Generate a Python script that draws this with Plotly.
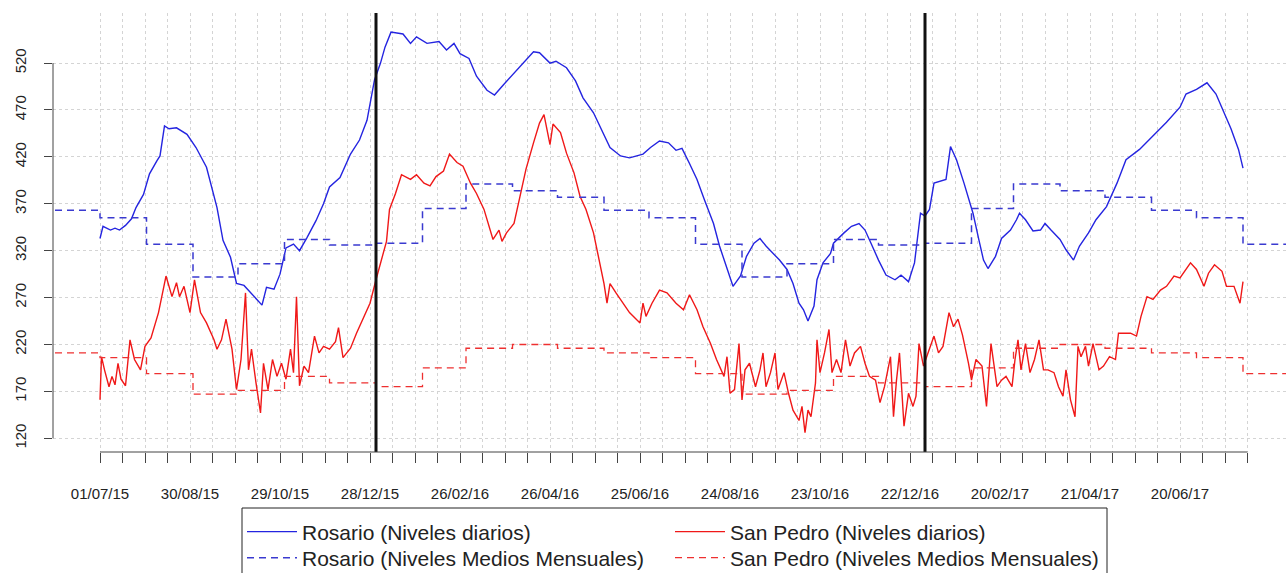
import pandas as pd
import plotly.graph_objects as go

START = "2015-07-01"

# Rosario daily levels (day offset from START, level)
rosario_days = [0, 2, 7, 10, 13, 17, 21, 24, 29, 33, 38, 40, 43, 46, 51, 58, 64, 71, 78, 82,
                87, 91, 96, 100, 104, 108, 111, 116, 120, 124, 129, 133, 138, 144, 149, 153, 160, 167, 173, 178,
                183, 187, 190, 194, 202, 207, 211, 218, 226, 231, 236, 240, 246, 251, 258, 263, 269, 276, 282, 289,
                293, 300, 304, 311, 317, 322, 329, 334, 340, 347, 353, 362, 367, 373, 379, 384, 388, 393, 398, 403,
                409, 413, 418, 422, 427, 431, 436, 440, 444, 449, 453, 458, 462, 466, 469, 472, 476, 478, 482, 487,
                489, 496, 501, 506, 510, 514, 519, 524, 530, 534, 539, 543, 547, 550, 553, 556, 564, 567, 571, 576,
                578, 582, 586, 589, 592, 597, 601, 607, 611, 613, 617, 622, 627, 630, 634, 640, 644, 649, 653, 659,
                664, 671, 678, 684, 693, 702, 711, 720, 724, 731, 738, 744, 749, 754, 759, 762]
rosario_vals = [333, 346, 342, 344, 342, 347, 354, 366, 380, 402, 416, 421, 453, 450, 451, 444, 430, 409, 366, 331,
                313, 285, 283, 276, 270, 262, 281, 279, 295, 323, 327, 320, 334, 352, 370, 388, 398, 423, 438, 459,
                502, 520, 537, 553, 551, 541, 548, 541, 543, 534, 541, 530, 525, 506, 491, 486, 497, 509, 520, 532,
                531, 520, 522, 515, 501, 483, 467, 450, 430, 421, 419, 423, 430, 437, 435, 427, 429, 413, 396, 374,
                349, 325, 300, 282, 293, 314, 328, 333, 325, 317, 310, 300, 285, 264, 257, 245, 261, 289, 307, 317,
                328, 339, 346, 349, 342, 328, 310, 294, 289, 294, 287, 307, 360, 357, 364, 392, 396, 431, 417, 392,
                381, 360, 331, 310, 301, 314, 333, 342, 353, 360, 353, 341, 342, 349, 342, 332, 321, 310, 325, 339,
                353, 367, 392, 417, 428, 442, 457, 473, 487, 492, 499, 487, 469, 450, 428, 408]

# San Pedro daily levels (day offset from START, level)
sanpedro_days = [0, 1, 3, 6, 8, 10, 12, 14, 17, 20, 23, 27, 30, 34, 39, 44, 48, 51, 53, 56,
                 60, 63, 67, 71, 76, 78, 81, 84, 88, 91, 94, 97, 99, 101, 104, 107, 109, 112, 115, 118,
                 121, 124, 127, 129, 131, 133, 136, 139, 143, 146, 149, 153, 157, 159, 162, 167, 171, 176, 180, 184,
                 188, 191, 193, 197, 201, 207, 211, 216, 220, 224, 229, 233, 238, 242, 247, 251, 256, 259, 262, 266,
                 268, 271, 276, 280, 284, 289, 293, 296, 298, 300, 302, 307, 311, 316, 320, 324, 329, 333, 336, 338,
                 340, 344, 349, 353, 358, 360, 362, 364, 368, 373, 378, 384, 389, 393, 398, 402, 407, 411, 416, 418,
                 420, 423, 426, 428, 430, 433, 437, 440, 442, 444, 447, 450, 452, 456, 459, 462, 466, 468, 470, 472,
                 474, 477, 478, 480, 483, 486, 488, 491, 494, 497, 500, 503, 507, 510, 513, 517, 520, 523, 527, 529,
                 531, 533, 536, 539, 542, 544, 546, 549, 552, 556, 559, 562, 566, 569, 572, 575, 579, 581, 584, 588,
                 591, 594, 598, 601, 604, 608, 610, 612, 614, 617, 620, 623, 626, 629, 632, 636, 639, 642, 644, 647,
                 650, 652, 654, 657, 659, 662, 666, 669, 673, 677, 679, 682, 687, 691, 694, 698, 702, 707, 711, 716,
                 720, 727, 731, 736, 739, 743, 748, 751, 756, 760, 762]
sanpedro_vals = [161, 207, 193, 175, 186, 177, 200, 183, 176, 225, 204, 193, 218, 227, 254, 293, 271, 286, 271, 282,
                 254, 289, 254, 243, 225, 215, 225, 247, 215, 172, 204, 275, 193, 215, 179, 147, 200, 172, 204, 186,
                 200, 183, 215, 190, 271, 176, 197, 190, 229, 211, 218, 215, 223, 238, 206, 216, 232, 250, 264, 289,
                 311, 330, 364, 381, 401, 396, 401, 392, 389, 399, 405, 423, 414, 410, 392, 381, 364, 349, 332, 342,
                 330, 339, 349, 378, 407, 435, 456, 465, 449, 433, 455, 446, 424, 403, 378, 364, 339, 310, 285, 264,
                 285, 275, 264, 254, 246, 243, 264, 250, 264, 278, 275, 264, 257, 273, 257, 239, 221, 204, 186, 207,
                 168, 172, 221, 161, 193, 200, 175, 193, 211, 175, 190, 211, 172, 190, 168, 150, 139, 154, 126, 150,
                 143, 179, 225, 190, 211, 236, 190, 204, 190, 225, 197, 211, 218, 200, 186, 182, 158, 175, 207, 143,
                 182, 211, 133, 168, 154, 165, 221, 197, 211, 229, 211, 218, 254, 239, 247, 230, 200, 182, 204, 197,
                 154, 221, 175, 182, 186, 175, 204, 225, 193, 221, 190, 204, 225, 193, 193, 190, 175, 165, 193, 161,
                 143, 218, 207, 218, 197, 221, 193, 197, 207, 204, 232, 232, 232, 229, 250, 271, 268, 278, 282, 293,
                 291, 307, 300, 282, 296, 305, 298, 282, 282, 264, 287]

# Monthly mean levels (one value per month start, Jun 2015 .. Sep 2017)
month_starts = pd.date_range("2015-06-01", "2017-09-01", freq="MS")
rosario_monthly = [363, 355, 327, 292, 306, 332, 326,
                   328, 365, 391, 384, 377, 363, 355, 327, 292, 306, 332, 326,
                   328, 365, 391, 384, 377, 363, 355, 327, 292]
sanpedro_monthly = [211, 206, 189, 167, 171, 186, 179,
                    175, 195, 216, 220, 216, 211, 206, 189, 167, 171, 186, 179,
                    175, 195, 216, 220, 216, 211, 206, 189, 167]

# Axis labels
x_labels = ["01/07/15", "30/08/15", "29/10/15", "28/12/15", "26/02/16", "26/04/16", "25/06/16",
            "24/08/16", "23/10/16", "22/12/16", "20/02/17", "21/04/17", "20/06/17"]
y_ticks = [120, 170, 220, 270, 320, 370, 420, 470, 520]
year_marks = ["2016-01-01", "2017-01-01"]

names = ["Rosario (Niveles diarios)", "San Pedro (Niveles diarios)",
         "Rosario (Niveles Medios Mensuales)", "San Pedro (Niveles Medios Mensuales)"]

t0 = pd.Timestamp(START)
rosario_dates = t0 + pd.to_timedelta(rosario_days, unit="D")
sanpedro_dates = t0 + pd.to_timedelta(sanpedro_days, unit="D")
major_ticks = pd.to_datetime(x_labels, format="%d/%m/%y")
minor_ticks = pd.date_range(START, periods=52, freq="15D")

W, H = 1286, 573
ML, MR, MT, MB = 53, 0, 13, 121
BLUE = "#2424e0"
RED = "#f01818"
FONT = "Liberation Sans, Arial, sans-serif"


def px_x(p):  # pixel -> paper x
    return (p - ML) / (W - ML - MR)


def px_y(p):  # pixel -> paper y
    return (H - MB - p) / (H - MT - MB)


fig = go.Figure()
fig.add_trace(go.Scatter(x=rosario_dates, y=rosario_vals, mode="lines", name=names[0], legend="legend",
                         line=dict(color=BLUE, width=1.4)))
fig.add_trace(go.Scatter(x=sanpedro_dates, y=sanpedro_vals, mode="lines", name=names[1], legend="legend",
                         line=dict(color=RED, width=1.4)))
fig.add_trace(go.Scatter(x=month_starts, y=rosario_monthly, mode="lines", name=names[2], legend="legend2",
                         line=dict(color="#3a3ad0", width=1.5, dash="7px,5px", shape="hv")))
fig.add_trace(go.Scatter(x=month_starts, y=sanpedro_monthly, mode="lines", name=names[3], legend="legend2",
                         line=dict(color="#ee3030", width=1.3, dash="7px,5px", shape="hv")))

# vertical year separators
for d in year_marks:
    fig.add_shape(type="line", xref="x", yref="paper", x0=d, x1=d, y0=0, y1=1,
                  line=dict(color="#111111", width=3))

# R-style axis lines spanning first..last tick only
fig.add_shape(type="line", xref="paper", yref="y", x0=0, x1=0, y0=y_ticks[0], y1=y_ticks[-1],
              line=dict(color="#444444", width=1))
fig.add_shape(type="line", xref="x", yref="paper", x0=minor_ticks[0], x1=minor_ticks[-1], y0=0, y1=0,
              line=dict(color="#444444", width=1))

# legend frame (runs off the bottom of the figure as in the original)
fig.add_shape(type="rect", xref="paper", yref="paper",
              x0=px_x(242), x1=px_x(1107), y0=px_y(508), y1=px_y(620),
              line=dict(color="#222222", width=1), fillcolor="rgba(0,0,0,0)")

x_range = [t0 - pd.Timedelta(days=31.33), t0 + pd.Timedelta(days=790.67)]

legend_common = dict(orientation="h", xref="container", yref="container",
                     x=242 / W, xanchor="left", yanchor="middle",
                     borderwidth=0, bgcolor="rgba(0,0,0,0)",
                     font=dict(size=21, family=FONT, color="#222222"),
                     itemwidth=50, entrywidth=363, tracegroupgap=0)

fig.update_layout(
    width=W, height=H,
    margin=dict(l=ML, r=MR, t=MT, b=MB),
    paper_bgcolor="white", plot_bgcolor="white",
    font=dict(family=FONT, color="#222222"),
    showlegend=True,
    legend=dict(legend_common, y=1 - 532 / H),
    legend2=dict(legend_common, y=1 - 558 / H),
    xaxis=dict(type="date", range=x_range, tickmode="array", tickvals=major_ticks, ticktext=x_labels,
               ticks="outside", ticklen=10, tickcolor="#444444", tickwidth=1,
               showline=False, zeroline=False,
               showgrid=True, gridcolor="#d4d4d4", griddash="dot", gridwidth=1,
               tickfont=dict(size=15, color="#222222"), ticklabelstandoff=18,
               minor=dict(tickmode="array", tickvals=minor_ticks, ticks="outside", ticklen=10,
                          tickcolor="#444444", showgrid=True, gridcolor="#d4d4d4", griddash="dot")),
    yaxis=dict(range=[105.4, 573.4], tickmode="array", tickvals=y_ticks,
               ticks="outside", ticklen=8, tickcolor="#444444",
               showline=False, zeroline=False,
               showgrid=True, gridcolor="#d4d4d4", griddash="dot", gridwidth=1,
               tickangle=-90, tickfont=dict(size=15, color="#222222"), ticklabelstandoff=12),
)

fig.write_html("out.html", config={"displayModeBar": False},
               post_script="document.body.style.margin='0';document.body.style.overflow='hidden';")
